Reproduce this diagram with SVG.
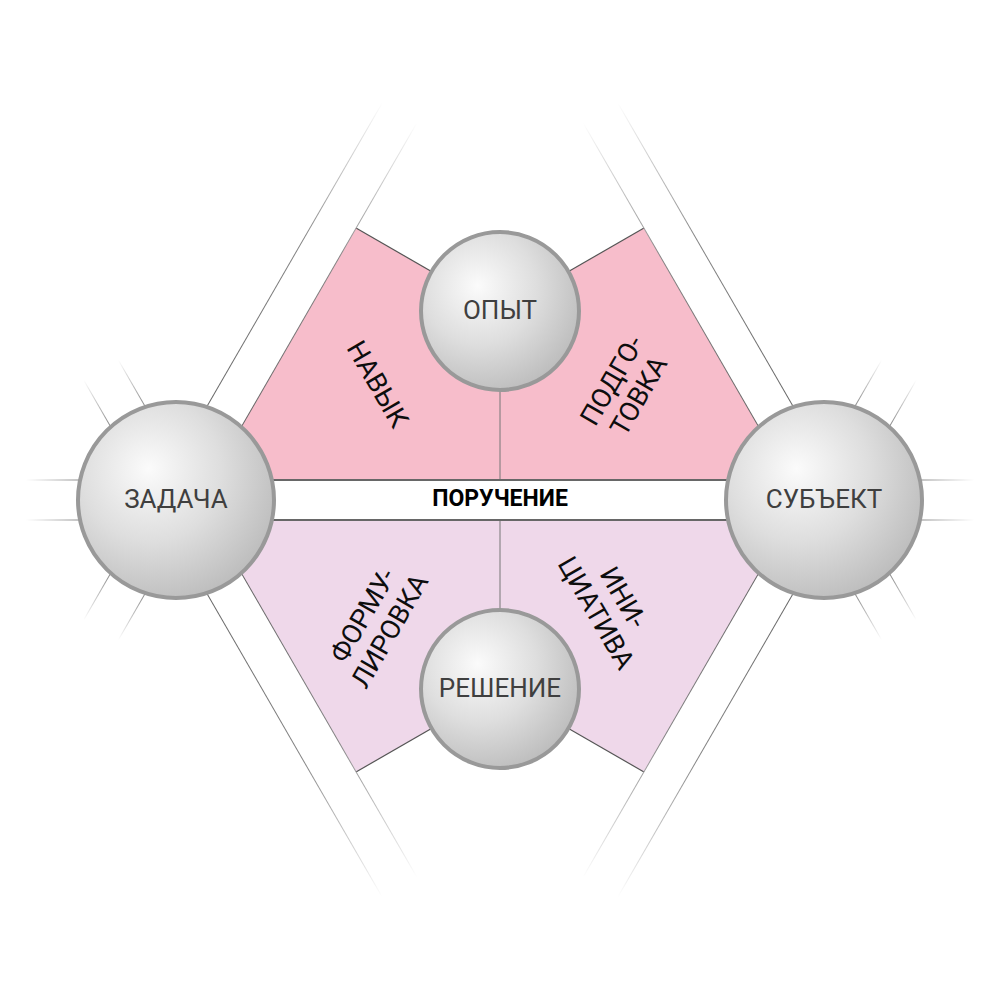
<svg xmlns="http://www.w3.org/2000/svg" width="1000" height="1000" viewBox="0 0 1000 1000">
<defs>
<radialGradient id="ball" cx="0.38" cy="0.36" r="0.72" fx="0.36" fy="0.34">
<stop offset="0" stop-color="#fbfbfb"/>
<stop offset="0.5" stop-color="#dedede"/>
<stop offset="1" stop-color="#b9b9b9"/>
</radialGradient>
<linearGradient id="gLong" gradientUnits="userSpaceOnUse" x1="100" y1="0" x2="447" y2="0">
<stop offset="0" stop-color="#666666"/>
<stop offset="0.55" stop-color="#858585"/>
<stop offset="1" stop-color="#ffffff"/>
</linearGradient>
<linearGradient id="gShort" gradientUnits="userSpaceOnUse" x1="98" y1="0" x2="150" y2="0">
<stop offset="0" stop-color="#8c8c8c"/>
<stop offset="1" stop-color="#ffffff"/>
</linearGradient>
<g id="longBand">
<line x1="0" y1="-20" x2="447" y2="-20" stroke="url(#gLong)"/>
<line x1="0" y1="20" x2="447" y2="20" stroke="url(#gLong)"/>
</g>
<g id="shortBand">
<line x1="60" y1="-20" x2="150" y2="-20" stroke="url(#gShort)"/>
<line x1="60" y1="20" x2="150" y2="20" stroke="url(#gShort)"/>
</g>
</defs>
<style>
.ball{fill:url(#ball);stroke:#999;stroke-width:4}
.lbl{font-family:Roboto,"Liberation Sans",sans-serif;font-size:26px;fill:#3f3f3f;text-anchor:middle}
.rot{font-family:Roboto,"Liberation Sans",sans-serif;font-size:27px;fill:#0d0d0d;text-anchor:middle}
.edge{stroke:#555;stroke-width:1.2;fill:none}
.mid{stroke:#777;stroke-width:1;fill:none}
.bands line{stroke-width:2}
</style>
<rect width="1000" height="1000" fill="#fff"/>

<g id="regions">
<polygon points="356,228 500,311 500,480 210.6,480" fill="#f7bdcb"/>
<polygon points="644,228 500,311 500,480 789.4,480" fill="#f7bdcb"/>
<polygon points="356,772 500,689 500,520 210.6,520" fill="#efd8ea"/>
<polygon points="644,772 500,689 500,520 789.4,520" fill="#efd8ea"/>
<line class="edge" x1="356" y1="228" x2="500" y2="311"/>
<line class="edge" x1="644" y1="228" x2="500" y2="311"/>
<line class="edge" x1="356" y1="772" x2="500" y2="689"/>
<line class="edge" x1="644" y1="772" x2="500" y2="689"/>
<line class="mid" x1="500" y1="311" x2="500" y2="480"/>
<line class="mid" x1="500" y1="520" x2="500" y2="689"/>
</g>

<g id="connectors" class="bands">
<use href="#longBand" transform="translate(176,500) rotate(-60)"/>
<use href="#longBand" transform="translate(176,500) rotate(60)"/>
<use href="#shortBand" transform="translate(176,500) rotate(180)"/>
<use href="#shortBand" transform="translate(176,500) rotate(120)"/>
<use href="#shortBand" transform="translate(176,500) rotate(-120)"/>
<use href="#longBand" transform="translate(824,500) rotate(-120)"/>
<use href="#longBand" transform="translate(824,500) rotate(120)"/>
<use href="#shortBand" transform="translate(824,500) rotate(0)"/>
<use href="#shortBand" transform="translate(824,500) rotate(60)"/>
<use href="#shortBand" transform="translate(824,500) rotate(-60)"/>
<line x1="176" y1="480" x2="824" y2="480" stroke="#676767" stroke-width="3.2"/>
<line x1="176" y1="520" x2="824" y2="520" stroke="#676767" stroke-width="3.2"/>
</g>

<g id="bar-label">
<text x="500" y="506" font-family="Roboto,'Liberation Sans',sans-serif" font-size="23" font-weight="bold" fill="#000" text-anchor="middle">ПОРУЧЕНИЕ</text>
</g>

<g id="node-zadacha">
<circle class="ball" cx="176" cy="500" r="98"/>
<text class="lbl" x="176" y="508">ЗАДАЧА</text>
</g>
<g id="node-subject">
<circle class="ball" cx="824" cy="500" r="98"/>
<text class="lbl" x="824" y="508">СУБЪЕКТ</text>
</g>
<g id="node-opyt">
<circle class="ball" cx="500" cy="311" r="79"/>
<text class="lbl" x="500" y="319">ОПЫТ</text>
</g>
<g id="node-reshenie">
<circle class="ball" cx="500" cy="689" r="79"/>
<text class="lbl" x="500" y="697">РЕШЕНИЕ</text>
</g>

<g id="label-navyk" transform="translate(378,384) rotate(60)">
<text class="rot" x="0" y="9.5">НАВЫК</text>
</g>
<g id="label-podgotovka" transform="translate(625,388) rotate(-60)">
<text class="rot" x="0" y="-6">ПОДГО-</text>
<text class="rot" x="0" y="25">ТОВКА</text>
</g>
<g id="label-formulirovka" transform="translate(376,623) rotate(-60)">
<text class="rot" x="0" y="-6">ФОРМУ-</text>
<text class="rot" x="0" y="25">ЛИРОВКА</text>
</g>
<g id="label-iniciativa" transform="translate(610,605) rotate(60)">
<text class="rot" x="0" y="-6">ИНИ-</text>
<text class="rot" x="0" y="25">ЦИАТИВА</text>
</g>
</svg>
